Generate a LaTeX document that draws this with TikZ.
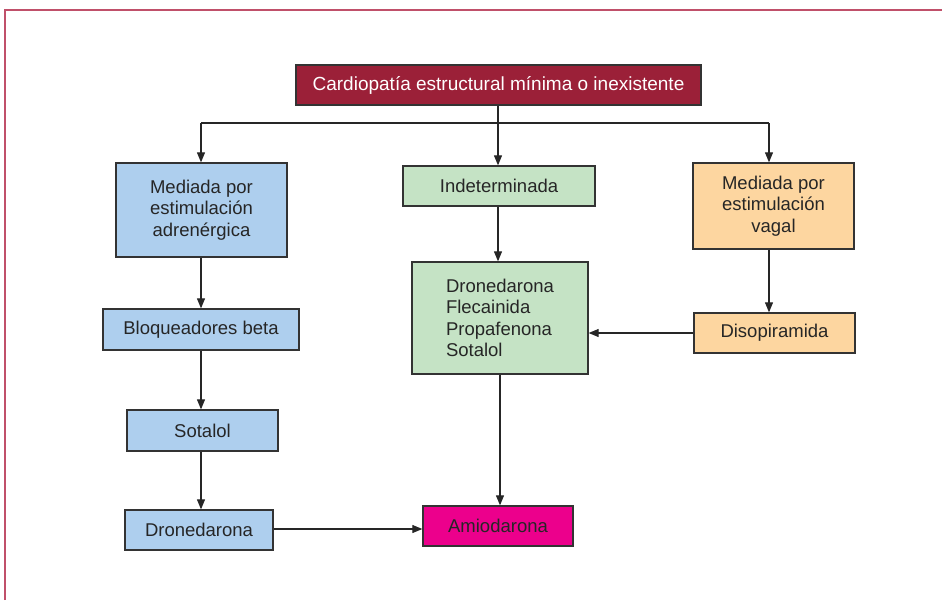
\documentclass[tikz,border=0pt]{standalone}
\usepackage{fontspec}
\setmainfont{Liberation Sans}
\usetikzlibrary{arrows.meta}
\definecolor{frame}{HTML}{C0506A}
\definecolor{topred}{HTML}{9B2038}
\definecolor{lblue}{HTML}{AECFEE}
\definecolor{lgreen}{HTML}{C5E3C5}
\definecolor{lorange}{HTML}{FDD6A0}
\definecolor{magenta2}{HTML}{EC008C}
\definecolor{edge}{HTML}{333333}
\tikzset{
  box/.style={draw=edge, line width=1.3pt, inner sep=0pt, align=center, font=\fontsize{18.5}{21.5}\selectfont, text=black!85},
  conn/.style={draw=black!85, line width=1.1pt, -{Triangle[length=10pt,width=8pt]}},
  plain/.style={draw=black!85, line width=1.1pt}
}
\begin{document}
\begin{tikzpicture}[x=1pt,y=-1pt]
\useasboundingbox (0,0) rectangle (942,600);
\draw[frame, line width=1.5pt] (5,600) -- (5,10) -- (942,10);
\node[box, fill=topred, text=white, minimum width=405pt, minimum height=40pt, font=\fontsize{19}{23}\selectfont] (top) at (498.5,85) {Cardiopatía estructural mínima o inexistente};
\node[box, fill=lblue, minimum width=171pt, minimum height=94pt] (adr) at (201.5,210) {Mediada por\\estimulación\\adrenérgica};
\node[box, fill=lgreen, minimum width=192pt, minimum height=40pt] (ind) at (499,186) {Indeterminada};
\node[box, fill=lorange, minimum width=161pt, minimum height=86pt] (vag) at (773.5,206) {Mediada por\\estimulación\\vagal};
\node[box, fill=lblue, minimum width=196pt, minimum height=41pt] (bloq) at (201,329.5) {Bloqueadores beta};
\node[box, fill=lgreen, minimum width=176pt, minimum height=112pt, align=left] (list) at (500,318) {Dronedarona\\Flecainida\\Propafenona\\Sotalol};
\node[box, fill=lorange, minimum width=161pt, minimum height=40pt] (diso) at (774.5,333) {Disopiramida};
\node[box, fill=lblue, minimum width=151pt, minimum height=41pt] (sota) at (202.5,430.5) {Sotalol};
\node[box, fill=lblue, minimum width=148pt, minimum height=40pt] (drone) at (199,530) {Dronedarona};
\node[box, fill=magenta2, minimum width=150pt, minimum height=40pt] (amio) at (498,526) {Amiodarona};
\coordinate (j) at (498,123);
\draw[plain] (top.south -| j) -- (j);
\draw[plain] (201,123) -- (769,123);
\draw[conn] (201,123) -- (adr.north -| 201,0);
\draw[conn] (j) -- (ind.north -| j);
\draw[conn] (769,123) -- (vag.north -| 769,0);
\draw[conn] (adr.south -| 201,0) -- (bloq.north -| 201,0);
\draw[conn] (bloq.south -| 201,0) -- (sota.north -| 201,0);
\draw[conn] (sota.south -| 201,0) -- (drone.north -| 201,0);
\draw[conn] (ind.south -| j) -- (list.north -| j);
\draw[conn] (vag.south -| 769,0) -- (diso.north -| 769,0);
\draw[conn] (diso.west) -- (list.east |- diso.west);
\draw[conn] (list.south -| 500,0) -- (amio.north -| 500,0);
\draw[conn] (drone.east |- 0,529) -- (amio.west |- 0,529);
\end{tikzpicture}
\end{document}
